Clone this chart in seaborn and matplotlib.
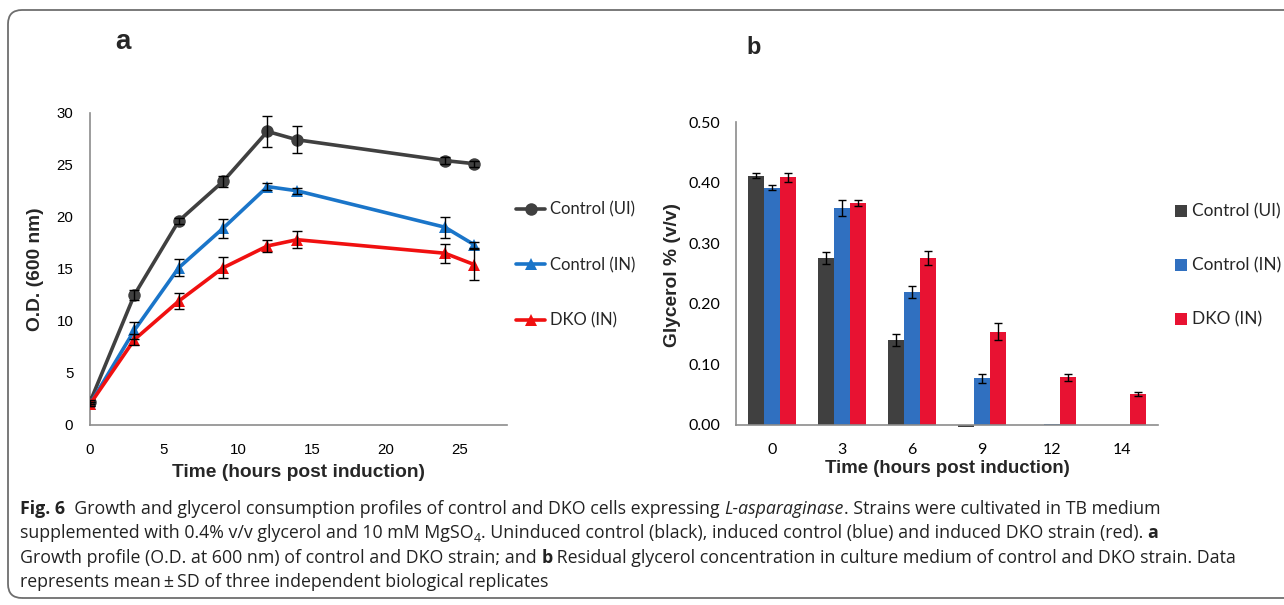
import matplotlib
matplotlib.use("Agg")
import matplotlib.pyplot as plt
from matplotlib.patches import FancyBboxPatch
from matplotlib.transforms import IdentityTransform
import pandas as pd
import seaborn as sns

W, H = 1284, 605

# panel a: growth (O.D. 600 nm)
hours_a = [0, 3, 6, 9, 12, 14, 24, 26]
od_ui = [2.2, 12.5, 19.6, 23.4, 28.2, 27.4, 25.4, 25.1]
od_ui_sd = [0.2, 0.5, 0.3, 0.5, 1.5, 1.3, 0.3, 0.3]
od_in = [2.0, 9.1, 15.1, 18.9, 22.9, 22.5, 19.0, 17.3]
od_in_sd = [0.2, 0.8, 0.8, 0.9, 0.3, 0.3, 1.0, 0.3]
od_dko = [2.0, 8.2, 11.9, 15.1, 17.2, 17.8, 16.5, 15.4]
od_dko_sd = [0.2, 0.5, 0.8, 1.0, 0.6, 0.8, 0.9, 1.5]

# panel b: residual glycerol
hours_b = ["0", "3", "6", "9", "12", "14"]
gly_ui = [0.412, 0.276, 0.140, -0.003, 0.0, 0.0]
gly_ui_sd = [0.004, 0.010, 0.010, 0.0, 0.0, 0.0]
gly_in = [0.392, 0.358, 0.220, 0.077, 0.001, 0.0]
gly_in_sd = [0.004, 0.013, 0.010, 0.007, 0.0, 0.0]
gly_dko = [0.409, 0.367, 0.276, 0.154, 0.079, 0.051]
gly_dko_sd = [0.008, 0.005, 0.012, 0.014, 0.006, 0.003]

strains = ["Control (UI)", "Control (IN)", "DKO (IN)"]
line_colors = ["#404040", "#1a75c9", "#f01010"]
bar_colors = ["#404040", "#3070c0", "#e81232"]
spine_gray = "#8c8c8c"
soft_font = ["Lato", "DejaVu Sans"]

sns.set_style("white")
plt.rcParams["font.family"] = ["Liberation Sans", "DejaVu Sans"]

fig = plt.figure(figsize=(W / 100, H / 100), dpi=100)


def px_axes(left, top, right, bottom):
    return fig.add_axes([left / W, 1 - bottom / H, (right - left) / W, (bottom - top) / H])


def style_axes(ax):
    for side in ["top", "right"]:
        ax.spines[side].set_visible(False)
    for side in ["left", "bottom"]:
        ax.spines[side].set_color(spine_gray)
        ax.spines[side].set_linewidth(1.2)
    ax.tick_params(colors=spine_gray, labelcolor="black", length=5, width=1.2)


# ---- panel a ----
ax_a = px_axes(90, 112.7, 507, 425)
df_a = pd.DataFrame({
    "hours": hours_a * 3,
    "od": od_ui + od_in + od_dko,
    "strain": [s for s in strains for _ in hours_a],
})
sns.lineplot(data=df_a, x="hours", y="od", hue="strain", style="strain",
             hue_order=strains, style_order=strains, palette=line_colors,
             markers={"Control (UI)": "o", "Control (IN)": "^", "DKO (IN)": "^"},
             dashes=False, linewidth=2.6, markersize=9, markeredgewidth=0,
             ax=ax_a, zorder=3)
for vals, sds in [(od_ui, od_ui_sd), (od_in, od_in_sd), (od_dko, od_dko_sd)]:
    ax_a.errorbar(hours_a, vals, yerr=sds, fmt="none", ecolor="black",
                  elinewidth=1, capsize=3.5, capthick=1, zorder=4)
ax_a.set_xlim(0, 28.2)
ax_a.set_ylim(0, 30)
ax_a.set_xticks([0, 5, 10, 15, 20, 25])
ax_a.set_yticks([0, 5, 10, 15, 20, 25, 30])
style_axes(ax_a)
ax_a.tick_params(labelsize=10.8)
ax_a.tick_params(axis="x", pad=8)
ax_a.tick_params(axis="y", pad=7)
ax_a.set_xlabel("Time (hours post induction)", fontsize=13.8, fontweight="bold", labelpad=5)
ax_a.set_ylabel("O.D. (600 nm)", fontsize=13.8, fontweight="bold", labelpad=9)
sns.move_legend(ax_a, "center left", bbox_to_anchor=(1.022, 0.512), frameon=False,
                title=None, borderaxespad=0, borderpad=0, handlelength=1.75,
                handletextpad=0.25, labelspacing=2.35,
                prop={"family": soft_font, "size": 12})

# ---- panel b ----
# the axes reaches a little below zero so the slightly negative bar shows
ax_b = px_axes(736, 122.3, 1158, 427.4)
df_b = pd.DataFrame({
    "hours": hours_b * 3,
    "glycerol": gly_ui + gly_in + gly_dko,
    "strain": [s for s in strains for _ in hours_b],
})
sns.barplot(data=df_b, x="hours", y="glycerol", hue="strain", order=hours_b,
            hue_order=strains, palette=bar_colors, width=0.69, errorbar=None,
            saturation=1, linewidth=0, ax=ax_b)
for container, sds in zip(ax_b.containers, [gly_ui_sd, gly_in_sd, gly_dko_sd]):
    for bar, sd in zip(container, sds):
        if sd > 0:
            ax_b.errorbar(bar.get_x() + bar.get_width() / 2, bar.get_height(), yerr=sd,
                          fmt="none", ecolor="black", elinewidth=1, capsize=3,
                          capthick=1, zorder=4)
ax_b.set_xlim(-0.51, 5.51)
ax_b.set_ylim(-0.004, 0.5)
ax_b.spines["bottom"].set_position(("data", 0))
ax_b.set_yticks([0, 0.1, 0.2, 0.3, 0.4, 0.5])
ax_b.set_yticklabels([f"{v:.2f}" for v in [0, 0.1, 0.2, 0.3, 0.4, 0.5]])
style_axes(ax_b)
ax_b.spines["left"].set_bounds(0, 0.5)
ax_b.tick_params(axis="x", length=0, pad=13)
ax_b.tick_params(axis="y", pad=6)
for lab in ax_b.get_xticklabels() + ax_b.get_yticklabels():
    lab.set_fontfamily(soft_font)
    lab.set_fontsize(11.5)
ax_b.set_xlabel("Time (hours post induction)", fontsize=13.4, fontweight="bold", labelpad=2)
ax_b.set_ylabel("Glycerol % (v/v)", fontsize=13.8, fontweight="bold", labelpad=6)
sns.move_legend(ax_b, "center left", bbox_to_anchor=(1.04, 0.53), frameon=False,
                title=None, borderaxespad=0, borderpad=0, handlelength=0.68,
                handleheight=0.68, handletextpad=0.3, labelspacing=2.2,
                prop={"family": soft_font, "size": 12.4})

# panel letters
fig.text(123 / W, 1 - 42 / H, "a", fontsize=20, fontweight="bold", ha="center", va="center")
fig.text(754 / W, 1 - 48 / H, "b", fontsize=17, fontweight="bold", ha="center", va="center")

# frame
frame = FancyBboxPatch((8, 7), 1320, 588, boxstyle="round,pad=0,rounding_size=14",
                       transform=IdentityTransform(), facecolor="none",
                       edgecolor="#6e6e6e", linewidth=1.3)
fig.add_artist(frame)

# caption, drawn as runs of differently styled text
cap_family = ["Open Sans", "DejaVu Sans"]
cap_size = 12.8
renderer = fig.canvas.get_renderer()


def run_width(text, **kw):
    probe = fig.text(0, 0, "|" + text + "|", **kw)
    ref = fig.text(0, 0, "||", **kw)
    w = probe.get_window_extent(renderer).width - ref.get_window_extent(renderer).width
    probe.remove()
    ref.remove()
    return w


def draw_runs(x_px, y_px, runs):
    x = x_px
    for text, style in runs:
        kw = {"family": cap_family, "fontsize": cap_size, "color": "#222222"}
        dy = 0
        if style == "bold":
            kw["fontweight"] = "bold"
        elif style == "italic":
            kw["fontstyle"] = "italic"
        elif style == "sub":
            kw["fontsize"] = cap_size * 0.7
            dy = 4
        fig.text(x / W, 1 - (y_px + dy) / H, text, va="baseline", ha="left", **kw)
        x += run_width(text, **kw)


caption = [
    [("Fig. 6", "bold"),
     ("  Growth and glycerol consumption profiles of control and DKO cells expressing ", ""),
     ("L-asparaginase", "italic"), (". Strains were cultivated in TB medium", "")],
    [("supplemented with 0.4% v/v glycerol and 10 mM MgSO", ""), ("4", "sub"),
     (". Uninduced control (black), induced control (blue) and induced DKO strain (red). ", ""),
     ("a", "bold")],
    [("Growth profile (O.D. at 600 nm) of control and DKO strain; and ", ""), ("b", "bold"),
     (" Residual glycerol concentration in culture medium of control and DKO strain. Data", "")],
    [("represents mean\u2009\u00b1\u2009SD of three independent biological replicates", "")],
]
for i, runs in enumerate(caption):
    draw_runs(20, 514 + i * 24.3, runs)

fig.savefig("out.png", dpi=100)
